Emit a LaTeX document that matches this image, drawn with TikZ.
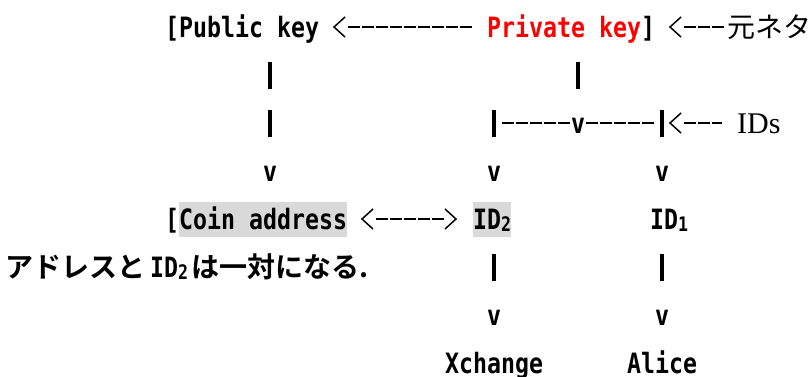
\documentclass[tikz,border=0pt]{standalone}
\usepackage{fontspec}
\newfontfamily\monob{DejaVu Sans Mono}[FakeStretch=0.83]
\newfontfamily\jpb{Noto Sans CJK JP Bold}
\newfontfamily\jpr{Noto Sans CJK JP}
\newfontfamily\serifx{Liberation Serif}
\definecolor{kred}{RGB}{255,0,0}
\definecolor{hlgray}{RGB}{217,217,217}
\tikzset{
  txt/.style={inner sep=0pt, anchor=base west, font=\monob\bfseries\fontsize{28}{28}\selectfont},
  redtxt/.style={txt, text=kred},
  hltxt/.style={txt, fill=hlgray, text height=27pt, text depth=8pt},
  jptxt/.style={inner sep=0pt, anchor=base west, font=\jpb\fontsize{28}{28}\selectfont},
  mototxt/.style={inner sep=0pt, anchor=base west, font=\jpr\fontsize{28}{28}\selectfont},
  sertxt/.style={inner sep=0pt, anchor=base west, font=\serifx\fontsize{30}{30}\selectfont},
  bar/.style={line width=3.2pt},
  shaft/.style={line width=2.2pt, dash pattern=on 12pt off 2pt, dash phase=-1pt},
  chev/.style={line width=1.5pt, line join=miter}
}
\newcommand\lchev[2]{\draw[chev] (#1+12,#2-10) -- (#1+1,#2) -- (#1+12,#2+10);}
\newcommand\rchev[2]{\draw[chev] (#1+2,#2-10) -- (#1+13,#2) -- (#1+2,#2+10);}
\newcommand\vbar[2]{\draw[bar] (#1,#2+4) -- (#1,#2-23);}
\begin{document}
\begin{tikzpicture}[x=1pt,y=-1pt]
\useasboundingbox (0,0) rectangle (808,376);
% row 1 (baseline 37)
\node[txt] (pub) at (165,37) {[Public key};
\lchev{333}{27}
\coordinate (s1a) at (347,27);
\coordinate (s1b) at (473,27);
\draw[shaft] (s1a) -- (s1b);
\node[redtxt] (priv) at (487,37) {Private key};
\node[txt] (rb) at (641,37) {]};
\lchev{669}{27}
\coordinate (s2a) at (683,27);
\coordinate (s2b) at (725,27);
\draw[shaft] (s2a) -- (s2b);
\node[mototxt] (moto) at (727,37) {元ネタ};
% row 2 (85)
\vbar{270}{85}
\vbar{578}{85}
% row 3 (133)
\vbar{270}{133}
\vbar{494}{133}
\coordinate (s3a) at (501,123);
\coordinate (s3b) at (571,123);
\draw[shaft] (s3a) -- (s3b);
\node[txt] (v3) at (571,133) {v};
\coordinate (s4a) at (585,123);
\coordinate (s4b) at (655,123);
\draw[shaft] (s4a) -- (s4b);
\vbar{662}{133}
\lchev{669}{123}
\coordinate (s5a) at (683,123);
\coordinate (s5b) at (722,123);
\draw[shaft] (s5a) -- (s5b);
\node[sertxt] (ids) at (737,133) {IDs};
% row 4 (181)
\node[txt] (v4a) at (263,181) {v};
\node[txt] (v4b) at (487,181) {v};
\node[txt] (v4c) at (655,181) {v};
% row 5 (229)
\node[txt] (lb) at (165,229) {[};
\node[hltxt] (coin) at (179,229) {Coin address};
\lchev{361}{219}
\coordinate (s6a) at (375,219);
\coordinate (s6b) at (445,219);
\draw[shaft] (s6a) -- (s6b);
\rchev{443}{219}
\node[hltxt] (id2) at (473,229) {ID\raisebox{-2pt}{\fontsize{20}{20}\selectfont 2}};
\node[txt] (id1) at (650,229) {ID\raisebox{-2pt}{\fontsize{20}{20}\selectfont 1}};
% row 6 (277)
\node[jptxt] (jp1) at (5,277) {アドレスと};
\node[txt] (jpid) at (150,277) {ID\raisebox{-2pt}{\fontsize{20}{20}\selectfont 2}};
\node[jptxt] (jp2) at (191,277) {は一対になる.};
\vbar{494}{277}
\vbar{662}{277}
% row 7 (325)
\node[txt] (v7a) at (487,325) {v};
\node[txt] (v7b) at (655,325) {v};
% row 8 (373)
\node[txt] (xch) at (445,373) {Xchange};
\node[txt] (alice) at (627,373) {Alice};
\end{tikzpicture}
\end{document}
